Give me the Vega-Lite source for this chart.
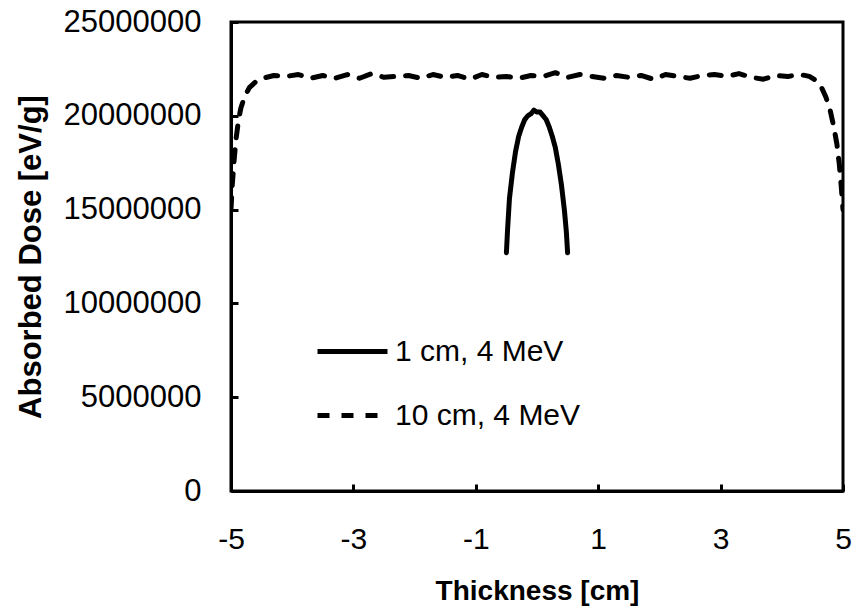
{
  "$schema": "https://vega.github.io/schema/vega-lite/v6.json",
  "width": 612,
  "height": 469,
  "autosize": "none",
  "padding": {"left": 231, "top": 22, "right": 13, "bottom": 115},
  "config": {
    "font": "Liberation Sans",
    "view": {"stroke": "black", "strokeWidth": 3}
  },
  "data": {"values": [
    {"series": "1 cm, 4 MeV", "x": -0.50, "dose": 12700000},
    {"series": "1 cm, 4 MeV", "x": -0.48, "dose": 14000000},
    {"series": "1 cm, 4 MeV", "x": -0.45, "dose": 15600000},
    {"series": "1 cm, 4 MeV", "x": -0.40, "dose": 17000000},
    {"series": "1 cm, 4 MeV", "x": -0.35, "dose": 18100000},
    {"series": "1 cm, 4 MeV", "x": -0.30, "dose": 18900000},
    {"series": "1 cm, 4 MeV", "x": -0.25, "dose": 19400000},
    {"series": "1 cm, 4 MeV", "x": -0.20, "dose": 19800000},
    {"series": "1 cm, 4 MeV", "x": -0.15, "dose": 20000000},
    {"series": "1 cm, 4 MeV", "x": -0.10, "dose": 20100000},
    {"series": "1 cm, 4 MeV", "x": -0.05, "dose": 20300000},
    {"series": "1 cm, 4 MeV", "x": 0.00, "dose": 20200000},
    {"series": "1 cm, 4 MeV", "x": 0.05, "dose": 20200000},
    {"series": "1 cm, 4 MeV", "x": 0.10, "dose": 20000000},
    {"series": "1 cm, 4 MeV", "x": 0.15, "dose": 19800000},
    {"series": "1 cm, 4 MeV", "x": 0.20, "dose": 19400000},
    {"series": "1 cm, 4 MeV", "x": 0.25, "dose": 18900000},
    {"series": "1 cm, 4 MeV", "x": 0.30, "dose": 18300000},
    {"series": "1 cm, 4 MeV", "x": 0.35, "dose": 17400000},
    {"series": "1 cm, 4 MeV", "x": 0.40, "dose": 16300000},
    {"series": "1 cm, 4 MeV", "x": 0.45, "dose": 14900000},
    {"series": "1 cm, 4 MeV", "x": 0.48, "dose": 13800000},
    {"series": "1 cm, 4 MeV", "x": 0.50, "dose": 12700000},
    {"series": "10 cm, 4 MeV", "x": -5.00, "dose": 15000000},
    {"series": "10 cm, 4 MeV", "x": -4.98, "dose": 16300000},
    {"series": "10 cm, 4 MeV", "x": -4.95, "dose": 17600000},
    {"series": "10 cm, 4 MeV", "x": -4.92, "dose": 18700000},
    {"series": "10 cm, 4 MeV", "x": -4.88, "dose": 19700000},
    {"series": "10 cm, 4 MeV", "x": -4.84, "dose": 20400000},
    {"series": "10 cm, 4 MeV", "x": -4.78, "dose": 21000000},
    {"series": "10 cm, 4 MeV", "x": -4.70, "dose": 21500000},
    {"series": "10 cm, 4 MeV", "x": -4.60, "dose": 21800000},
    {"series": "10 cm, 4 MeV", "x": -4.48, "dose": 22000000},
    {"series": "10 cm, 4 MeV", "x": -4.30, "dose": 22150000},
    {"series": "10 cm, 4 MeV", "x": -4.10, "dose": 22100000},
    {"series": "10 cm, 4 MeV", "x": -3.90, "dose": 22200000},
    {"series": "10 cm, 4 MeV", "x": -3.70, "dose": 22000000},
    {"series": "10 cm, 4 MeV", "x": -3.50, "dose": 22150000},
    {"series": "10 cm, 4 MeV", "x": -3.30, "dose": 22000000},
    {"series": "10 cm, 4 MeV", "x": -3.10, "dose": 22200000},
    {"series": "10 cm, 4 MeV", "x": -2.90, "dose": 22000000},
    {"series": "10 cm, 4 MeV", "x": -2.70, "dose": 22250000},
    {"series": "10 cm, 4 MeV", "x": -2.50, "dose": 22050000},
    {"series": "10 cm, 4 MeV", "x": -2.30, "dose": 22100000},
    {"series": "10 cm, 4 MeV", "x": -2.10, "dose": 22150000},
    {"series": "10 cm, 4 MeV", "x": -1.90, "dose": 22000000},
    {"series": "10 cm, 4 MeV", "x": -1.70, "dose": 22200000},
    {"series": "10 cm, 4 MeV", "x": -1.50, "dose": 22050000},
    {"series": "10 cm, 4 MeV", "x": -1.30, "dose": 22150000},
    {"series": "10 cm, 4 MeV", "x": -1.10, "dose": 21950000},
    {"series": "10 cm, 4 MeV", "x": -0.90, "dose": 22200000},
    {"series": "10 cm, 4 MeV", "x": -0.70, "dose": 22050000},
    {"series": "10 cm, 4 MeV", "x": -0.50, "dose": 22100000},
    {"series": "10 cm, 4 MeV", "x": -0.30, "dose": 22000000},
    {"series": "10 cm, 4 MeV", "x": -0.10, "dose": 22150000},
    {"series": "10 cm, 4 MeV", "x": 0.10, "dose": 22100000},
    {"series": "10 cm, 4 MeV", "x": 0.30, "dose": 22300000},
    {"series": "10 cm, 4 MeV", "x": 0.50, "dose": 22050000},
    {"series": "10 cm, 4 MeV", "x": 0.70, "dose": 22200000},
    {"series": "10 cm, 4 MeV", "x": 0.90, "dose": 22100000},
    {"series": "10 cm, 4 MeV", "x": 1.10, "dose": 22000000},
    {"series": "10 cm, 4 MeV", "x": 1.30, "dose": 22150000},
    {"series": "10 cm, 4 MeV", "x": 1.50, "dose": 22050000},
    {"series": "10 cm, 4 MeV", "x": 1.70, "dose": 22150000},
    {"series": "10 cm, 4 MeV", "x": 1.90, "dose": 21950000},
    {"series": "10 cm, 4 MeV", "x": 2.10, "dose": 22200000},
    {"series": "10 cm, 4 MeV", "x": 2.30, "dose": 22100000},
    {"series": "10 cm, 4 MeV", "x": 2.50, "dose": 22000000},
    {"series": "10 cm, 4 MeV", "x": 2.70, "dose": 22150000},
    {"series": "10 cm, 4 MeV", "x": 2.90, "dose": 22200000},
    {"series": "10 cm, 4 MeV", "x": 3.10, "dose": 22100000},
    {"series": "10 cm, 4 MeV", "x": 3.30, "dose": 22250000},
    {"series": "10 cm, 4 MeV", "x": 3.50, "dose": 22050000},
    {"series": "10 cm, 4 MeV", "x": 3.70, "dose": 21950000},
    {"series": "10 cm, 4 MeV", "x": 3.90, "dose": 22150000},
    {"series": "10 cm, 4 MeV", "x": 4.10, "dose": 22100000},
    {"series": "10 cm, 4 MeV", "x": 4.30, "dose": 22200000},
    {"series": "10 cm, 4 MeV", "x": 4.45, "dose": 22100000},
    {"series": "10 cm, 4 MeV", "x": 4.55, "dose": 21900000},
    {"series": "10 cm, 4 MeV", "x": 4.65, "dose": 21500000},
    {"series": "10 cm, 4 MeV", "x": 4.72, "dose": 21000000},
    {"series": "10 cm, 4 MeV", "x": 4.79, "dose": 20300000},
    {"series": "10 cm, 4 MeV", "x": 4.85, "dose": 19400000},
    {"series": "10 cm, 4 MeV", "x": 4.90, "dose": 18500000},
    {"series": "10 cm, 4 MeV", "x": 4.94, "dose": 17400000},
    {"series": "10 cm, 4 MeV", "x": 4.97, "dose": 16300000},
    {"series": "10 cm, 4 MeV", "x": 5.00, "dose": 15000000}
  ]},
  "mark": {"type": "line", "color": "black", "strokeWidth": 5, "strokeCap": "round", "strokeJoin": "round", "clip": true},
  "encoding": {
    "x": {
      "field": "x", "type": "quantitative",
      "scale": {"domain": [-5, 5], "nice": false, "zero": false},
      "axis": {
        "title": "Thickness [cm]",
        "values": [-5, -3, -1, 1, 3, 5],
        "labelExpr": "'' + datum.value",
        "grid": false,
        "domainColor": "black", "domainWidth": 3,
        "tickColor": "black", "tickWidth": 3, "tickSize": -7,
        "labelColor": "black", "labelFontSize": 30, "labelPadding": 40,
        "labelFlush": false,
        "titleColor": "black", "titleFontSize": 28, "titleFontWeight": "bold", "titlePadding": 23
      }
    },
    "y": {
      "field": "dose", "type": "quantitative",
      "scale": {"domain": [0, 25000000], "nice": false},
      "axis": {
        "title": "Absorbed Dose [eV/g]",
        "values": [0, 5000000, 10000000, 15000000, 20000000, 25000000],
        "format": "d",
        "grid": false,
        "domainColor": "black", "domainWidth": 3,
        "tickColor": "black", "tickWidth": 3, "tickSize": -7,
        "labelColor": "black", "labelFontSize": 31, "labelPadding": 37,
        "titleColor": "black", "titleFontSize": 31, "titleFontWeight": "bold", "titlePadding": 16
      }
    },
    "strokeDash": {
      "field": "series", "type": "nominal",
      "scale": {"domain": ["1 cm, 4 MeV", "10 cm, 4 MeV"], "range": [[1, 0], [12, 12]]},
      "legend": {
        "title": null,
        "orient": "none", "legendX": 84, "legendY": 292,
        "symbolType": "stroke", "symbolSize": 4900, "symbolStrokeWidth": 5,
        "symbolStrokeColor": "black",
        "labelFontSize": 30, "labelColor": "black", "labelOffset": 5, "labelLimit": 0,
        "rowPadding": 11, "padding": 0
      }
    },
    "detail": {"field": "series"},
    "order": {"field": "x", "type": "quantitative"}
  }
}
